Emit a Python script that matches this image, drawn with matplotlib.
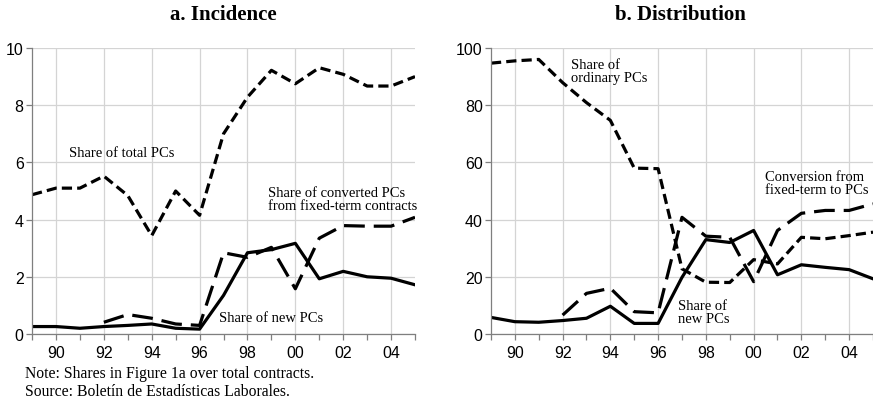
import numpy as np
import matplotlib
matplotlib.use('Agg')
import matplotlib.pyplot as plt

#Anni 1989-2005
years = np.arange(89, 106)
year_labels = ['90', '92', '94', '96', '98', '00', '02', '04']

#Pannello a: incidenza
total_pcs = [4.87, 5.1, 5.1, 5.52, 4.84, 3.44, 5.0, 4.15, 7.0, 8.28, 9.22, 8.75, 9.31, 9.08, 8.67, 8.67, 9.0]
new_pcs = [0.26, 0.26, 0.2, 0.26, 0.3, 0.35, 0.2, 0.17, 1.35, 2.84, 2.95, 3.17, 1.93, 2.19, 2.0, 1.95, 1.72]
conv_years = np.arange(92, 106)
converted_pcs = [0.41, 0.68, 0.55, 0.35, 0.3, 2.84, 2.68, 3.03, 1.58, 3.35, 3.79, 3.77, 3.77, 4.08]

#Pannello b: distribuzione
ordinary_share = [94.7, 95.5, 96.0, 87.9, 80.9, 74.7, 58.0, 57.8, 22.8, 18.1, 18.0, 26.0, 24.5, 33.8, 33.3, 34.4, 35.6]
new_share = [5.8, 4.3, 4.1, 4.7, 5.5, 9.7, 3.7, 3.7, 19.8, 33.0, 32.0, 36.2, 20.7, 24.2, 23.3, 22.5, 19.3]
conversion_share = [6.6, 14.2, 16.0, 7.8, 7.4, 40.8, 34.2, 33.8, 18.3, 36.2, 42.2, 43.2, 43.2, 45.5]

SERIF = 'Liberation Serif'
SANS = 'Liberation Sans'
short_dash = (0, (3.2, 1.6))
long_dash = (0, (6.5, 2.8))
LW = 2.3


def style_axis(ax, ymax, ystep):
    ax.set_xlim(89, 105)
    ax.set_ylim(0, ymax)
    ax.set_xticks(np.arange(90, 105, 2))
    ax.set_xticklabels(year_labels, fontfamily=SANS, fontsize=11.5)
    ax.set_xticks(np.arange(89, 106, 1), minor=True)
    ax.set_yticks(np.arange(0, ymax + 1e-9, ystep))
    ax.set_yticklabels([f'{int(v)}' for v in np.arange(0, ymax + 1e-9, ystep)], fontfamily=SANS, fontsize=11.5)
    ax.grid(True, which='major', color='#d4d4d4', linewidth=0.9)
    ax.set_axisbelow(True)
    for s in ['top', 'right']:
        ax.spines[s].set_visible(False)
    for s in ['left', 'bottom']:
        ax.spines[s].set_color('#7f7f7f')
        ax.spines[s].set_linewidth(0.9)
    ax.tick_params(axis='both', which='both', color='#7f7f7f', width=0.9, length=4, pad=2)
    ax.tick_params(axis='x', which='both', pad=4)


fig = plt.figure(figsize=(8.73, 4.02), dpi=100)
ax1 = fig.add_axes([0.0367, 0.1667, 0.4387, 0.7114])
ax2 = fig.add_axes([0.5624, 0.1667, 0.4376, 0.7114])

#Grafico a
ax1.plot(years, total_pcs, color='black', lw=LW, linestyle=short_dash)
ax1.plot(conv_years, converted_pcs, color='black', lw=LW, linestyle=long_dash)
ax1.plot(years, new_pcs, color='black', lw=LW)
style_axis(ax1, 10, 2)
ax1.text(90.55, 6.33, 'Share of total PCs', fontfamily=SERIF, fontsize=10.5, va='center')
ax1.text(98.86, 4.72, 'Share of converted PCs\nfrom fixed-term contracts', fontfamily=SERIF, fontsize=10.5, va='center', linespacing=1.0)
ax1.text(96.8, 0.59, 'Share of new PCs', fontfamily=SERIF, fontsize=10.5, va='center')

#Grafico b
ax2.plot(years, ordinary_share, color='black', lw=LW, linestyle=short_dash)
ax2.plot(conv_years, conversion_share, color='black', lw=LW, linestyle=long_dash)
ax2.plot(years, new_share, color='black', lw=LW)
style_axis(ax2, 100, 20)
ax2.text(92.35, 92, 'Share of\nordinary PCs', fontfamily=SERIF, fontsize=10.5, va='center', linespacing=1.0)
ax2.text(100.48, 52.8, 'Conversion from\nfixed-term to PCs', fontfamily=SERIF, fontsize=10.5, va='center', linespacing=1.0)
ax2.text(96.83, 7.7, 'Share of\nnew PCs', fontfamily=SERIF, fontsize=10.5, va='center', linespacing=1.0)

#Titoli
fig.text(223 / 873, 1 - 15 / 402, 'a. Incidence', fontfamily=SERIF, fontsize=15, fontweight='bold', ha='center', va='center')
fig.text(680 / 873, 1 - 15 / 402, 'b. Distribution', fontfamily=SERIF, fontsize=15, fontweight='bold', ha='center', va='center')

#Note
fig.text(25 / 873, 1 - 374 / 402, 'Note: Shares in Figure 1a over total contracts.', fontfamily=SERIF, fontsize=11.3, va='center')
fig.text(25 / 873, 1 - 392 / 402, 'Source: Boletín de Estadísticas Laborales.', fontfamily=SERIF, fontsize=11.3, va='center')

fig.savefig('out.png', dpi=100)
